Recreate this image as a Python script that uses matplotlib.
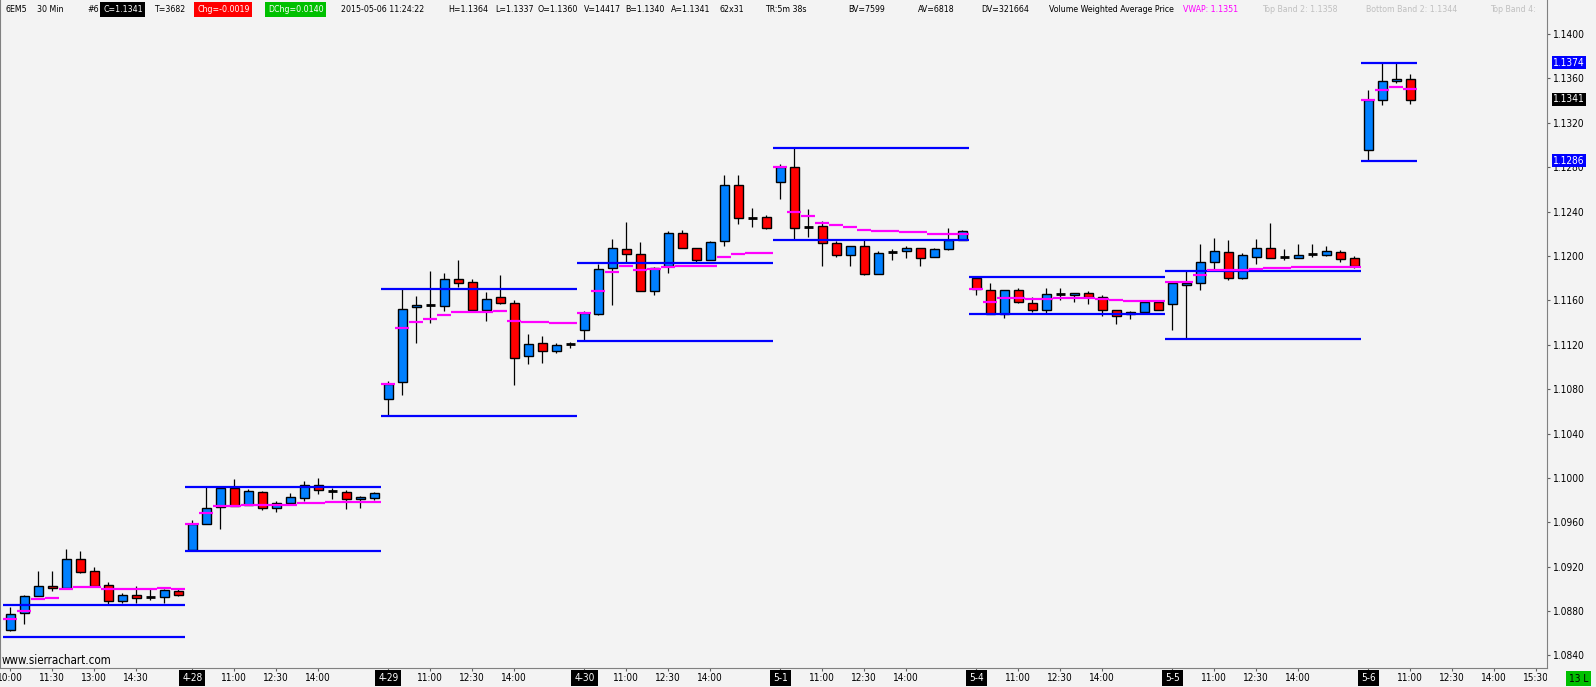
import numpy as np
import matplotlib
matplotlib.use("Agg")
import matplotlib.pyplot as plt
import matplotlib.transforms as mtransforms
from matplotlib import font_manager as fm

# fonts: prefer a narrow / condensed sans like the Sierra Chart UI
names = {f.name for f in fm.fontManager.ttflist}
condensed = [f for f in fm.fontManager.ttflist
             if f.stretch in ("condensed", "semi-condensed") and f.style == "normal"
             and f.weight in (400, "normal", "regular")]
if "Liberation Sans Narrow" in names:
    ui_font, ui_stretch = "Liberation Sans Narrow", "normal"
elif condensed:
    ui_font, ui_stretch = condensed[0].name, condensed[0].stretch
else:
    ui_font, ui_stretch = "Liberation Sans", "normal"
plt.rcParams["font.family"] = [ui_font, "DejaVu Sans"]
plt.rcParams["font.stretch"] = ui_stretch

# ---- data: 6EM5 30 min bars ----
days = ["4-27", "4-28", "4-29", "4-30", "5-1", "5-4", "5-5", "5-6"]
bars_in_day = [13, 14, 14, 14, 14, 14, 14, 4]

open_ = [
    1.08628, 1.08784, 1.08936, 1.09029, 1.09005, 1.09272, 1.09161, 1.09035, 1.08892, 1.08946, 1.08924, 1.08927, 1.08981,
    1.09347, 1.09581, 1.09736, 1.09910, 1.09760, 1.09871, 1.09727, 1.09778, 1.09823, 1.09934, 1.09883, 1.09871, 1.09808, 1.09817,
    1.10707, 1.10860, 1.11543, 1.11555, 1.11552, 1.11795, 1.11768, 1.11516, 1.11633, 1.11579, 1.11103, 1.11220, 1.11148, 1.11205,
    1.11337, 1.11477, 1.11894, 1.12064, 1.12020, 1.11687, 1.11909, 1.12208, 1.12073, 1.11966, 1.12136, 1.12640, 1.12346, 1.12352,
    1.12670, 1.12802, 1.12262, 1.12271, 1.12118, 1.12010, 1.12091, 1.11840, 1.12034, 1.12046, 1.12073, 1.11993, 1.12064, 1.12148,
    1.11798, 1.11696, 1.11480, 1.11696, 1.11579, 1.11516, 1.11654, 1.11651, 1.11669, 1.11633, 1.11516, 1.11480, 1.11498, 1.11588,
    1.11570, 1.11741, 1.11759, 1.11948, 1.12038, 1.11804, 1.11993, 1.12074, 1.11990, 1.11984, 1.12017, 1.12011, 1.12038, 1.11984,
    1.12957, 1.13404, 1.13575, 1.13593,
]
high = [
    1.08838, 1.08948, 1.09164, 1.09164, 1.09362, 1.09344, 1.09200, 1.09062, 1.08963, 1.09029, 1.08996, 1.09002, 1.09011,
    1.09622, 1.09916, 1.09916, 1.09991, 1.09901, 1.09883, 1.09790, 1.09865, 1.09970, 1.10000, 1.09913, 1.09889, 1.09835, 1.09871,
    1.10872, 1.11699, 1.11636, 1.11861, 1.11843, 1.11960, 1.11795, 1.11672, 1.11825, 1.11606, 1.11301, 1.11277, 1.11220, 1.11223,
    1.11504, 1.11930, 1.12157, 1.12310, 1.12130, 1.11900, 1.12229, 1.12235, 1.12073, 1.12139, 1.12733, 1.12733, 1.12436, 1.12370,
    1.12831, 1.12975, 1.12427, 1.12319, 1.12133, 1.12091, 1.12145, 1.12046, 1.12067, 1.12094, 1.12073, 1.12073, 1.12256, 1.12238,
    1.11810, 1.11753, 1.11696, 1.11714, 1.11633, 1.11714, 1.11714, 1.11669, 1.11687, 1.11651, 1.11516, 1.11504, 1.11606, 1.11588,
    1.11759, 1.11861, 1.12112, 1.12166, 1.12145, 1.12023, 1.12154, 1.12301, 1.12065, 1.12112, 1.12112, 1.12086, 1.12056, 1.11999,
    1.13497, 1.13737, 1.13737, 1.13640,
]
low = [
    1.08618, 1.08682, 1.08936, 1.08978, 1.09005, 1.09140, 1.09023, 1.08859, 1.08874, 1.08874, 1.08900, 1.08871, 1.08936,
    1.09338, 1.09581, 1.09542, 1.09751, 1.09760, 1.09715, 1.09697, 1.09766, 1.09790, 1.09859, 1.09814, 1.09724, 1.09733, 1.09799,
    1.10560, 1.10749, 1.11217, 1.11396, 1.11504, 1.11720, 1.11513, 1.11414, 1.11567, 1.10839, 1.11028, 1.11037, 1.11127, 1.11172,
    1.11235, 1.11468, 1.11558, 1.11939, 1.11687, 1.11648, 1.11846, 1.12073, 1.11945, 1.11966, 1.12088, 1.12286, 1.12259, 1.12241,
    1.12511, 1.12157, 1.12169, 1.11909, 1.11989, 1.11909, 1.11828, 1.11840, 1.11963, 1.11981, 1.11909, 1.11993, 1.12052, 1.12148,
    1.11645, 1.11480, 1.11441, 1.11576, 1.11492, 1.11483, 1.11606, 1.11588, 1.11567, 1.11459, 1.11387, 1.11432, 1.11498, 1.11516,
    1.11333, 1.11256, 1.11693, 1.11876, 1.11786, 1.11795, 1.11927, 1.11984, 1.11963, 1.11984, 1.11993, 1.11999, 1.11945, 1.11894,
    1.12868, 1.13356, 1.13557, 1.13370,
]
close = [
    1.08775, 1.08939, 1.09029, 1.09008, 1.09272, 1.09149, 1.09023, 1.08892, 1.08946, 1.08918, 1.08924, 1.08993, 1.08946,
    1.09581, 1.09727, 1.09910, 1.09751, 1.09880, 1.09727, 1.09772, 1.09826, 1.09934, 1.09889, 1.09883, 1.09808, 1.09826, 1.09862,
    1.10845, 1.11525, 1.11561, 1.11555, 1.11795, 1.11759, 1.11513, 1.11615, 1.11579, 1.11085, 1.11211, 1.11145, 1.11202, 1.11205,
    1.11483, 1.11885, 1.12073, 1.12020, 1.11687, 1.11894, 1.12208, 1.12073, 1.11966, 1.12127, 1.12640, 1.12343, 1.12346, 1.12253,
    1.12799, 1.12250, 1.12262, 1.12118, 1.12010, 1.12091, 1.11840, 1.12028, 1.12034, 1.12073, 1.11984, 1.12064, 1.12148, 1.12226,
    1.11705, 1.11480, 1.11696, 1.11588, 1.11516, 1.11660, 1.11654, 1.11669, 1.11630, 1.11516, 1.11462, 1.11495, 1.11588, 1.11516,
    1.11759, 1.11759, 1.11948, 1.12047, 1.11804, 1.12011, 1.12074, 1.11984, 1.11990, 1.12011, 1.12017, 1.12047, 1.11975, 1.11909,
    1.13407, 1.13575, 1.13593, 1.13404,
]
vwap = [
    1.08733, 1.08805, 1.08906, 1.08915, 1.08996, 1.09014, 1.09014, 1.09002, 1.09002, 1.09002, 1.09002, 1.09005, 1.08996,
    1.09581, 1.09688, 1.09748, 1.09751, 1.09760, 1.09760, 1.09760, 1.09760, 1.09778, 1.09778, 1.09784, 1.09787, 1.09787, 1.09787,
    1.10845, 1.11348, 1.11405, 1.11429, 1.11465, 1.11495, 1.11495, 1.11495, 1.11504, 1.11414, 1.11405, 1.11405, 1.11396, 1.11396,
    1.11483, 1.11681, 1.11852, 1.11906, 1.11870, 1.11882, 1.11897, 1.11906, 1.11906, 1.11906, 1.11987, 1.12014, 1.12023, 1.12023,
    1.12799, 1.12394, 1.12364, 1.12301, 1.12283, 1.12265, 1.12232, 1.12223, 1.12223, 1.12214, 1.12214, 1.12202, 1.12202, 1.12202,
    1.11699, 1.11582, 1.11618, 1.11618, 1.11609, 1.11609, 1.11618, 1.11618, 1.11618, 1.11612, 1.11600, 1.11591, 1.11591, 1.11591,
    1.11765, 1.11765, 1.11825, 1.11873, 1.11870, 1.11873, 1.11882, 1.11891, 1.11891, 1.11900, 1.11900, 1.11900, 1.11900, 1.11900,
    1.13407, 1.13497, 1.13518, 1.13506,
]
# first-hour (initial balance) high / low per day
ib_high = [1.08853, 1.09922, 1.11699, 1.11933, 1.12975, 1.11810, 1.11864, 1.13740]
ib_low = [1.08565, 1.09338, 1.10560, 1.11235, 1.12148, 1.11474, 1.11256, 1.12860]

first_day_times = ["10:00", "11:30", "13:00", "14:30"]
day_times = ["11:00", "12:30", "14:00"]
future_times = ["15:30"]
price_ticks = np.arange(1.0840, 1.14005, 0.004)
marked_prices = [(1.1374, "#0000ff"), (1.1341, "#000000"), (1.1286, "#0000ff")]

header_text = ["6EM5", "30 Min", "#6", "C=1.1341", "T=3682", "Chg=-0.0019", "DChg=0.0140",
               "2015-05-06 11:24:22", "H=1.1364", "L=1.1337", "O=1.1360", "V=14417", "B=1.1340",
               "A=1.1341", "62x31", "TR:5m 38s", "BV=7599", "AV=6818", "DV=321664",
               "Volume Weighted Average Price", "VWAP: 1.1351", "Top Band 2: 1.1358",
               "Bottom Band 2: 1.1344", "Top Band 4:"]

# ---- layout (pixels) ----
W, H = 1596, 687
PANE_R, PANE_B = 1547, 668
SLOTS = 14  # 30 min slots 9:30 .. 16:00


def slot_of(t):
    hh, mm = map(int, t.split(":"))
    return (hh * 60 + mm - 570) // 30


fig = plt.figure(figsize=(W / 100, H / 100), dpi=100, facecolor="#f3f3f3")
renderer = fig.canvas.get_renderer()


def fit_size(sample, width_px, ref=10.0):
    t = fig.text(0, 0, sample, fontsize=ref)
    w = t.get_window_extent(renderer=renderer).width
    t.remove()
    return ref * width_px / w


hdr_fs = min(9.5, fit_size("Volume Weighted Average Price", 127))
ax_fs = min(9.5, fit_size("1.0840", 32))
time_fs = min(9.5, fit_size("12:30", 26))

ax = fig.add_axes([0, 1 - PANE_B / H, PANE_R / W, PANE_B / H])
ax.set_facecolor("#f3f3f3")

# bar positions: one slot per 30 min, each session 14 slots
starts = [SLOTS * d + (SLOTS - n if d == 0 else 0) for d, n in enumerate(bars_in_day)]
x = np.concatenate([s + np.arange(n) for s, n in zip(starts, bars_in_day)])
o, h, l, c, vw = map(np.array, (open_, high, low, close, vwap))

up = c > o + 1e-6
dn = c < o - 1e-6
dj = ~(up | dn)

ax.vlines(x, l, h, color="black", lw=0.9, zorder=2)
ax.bar(x[up], (c - o)[up], bottom=o[up], width=0.6, color="#0080ff",
       edgecolor="black", linewidth=1.0, zorder=3)
ax.bar(x[dn], (o - c)[dn], bottom=c[dn], width=0.6, color="#ff0000",
       edgecolor="black", linewidth=1.0, zorder=3)
ax.hlines(o[dj], x[dj] - 0.32, x[dj] + 0.32, color="black", lw=2.0, zorder=3)

for s, n, hi, lo in zip(starts, bars_in_day, ib_high, ib_low):
    ax.hlines([hi, lo], s - 0.5, s + n - 0.5, color="#0000ff", lw=1.6, zorder=4)

ax.hlines(vw, x - 0.5, x + 0.5, color="#ff00ff", lw=1.6, zorder=5)

# scales: 1.1400 sits 34 px below the top, 11098 px per price unit
ppu = 11098.0
ax.set_ylim(1.14 - (PANE_B - 34) / ppu, 1.14 + 34 / ppu)
ax.set_xlim(3.7 / 14, (PANE_R + 3.7) / 14)

for side in ("left", "right", "bottom"):
    ax.spines[side].set_color("#808080")
    ax.spines[side].set_linewidth(0.8)
ax.spines["top"].set_visible(False)

ax.yaxis.tick_right()
ax.set_yticks(price_ticks)
ax.set_yticklabels([f"{v:.4f}" for v in price_ticks])
ax.tick_params(axis="y", direction="out", length=2.5, width=0.8, color="#606060",
               pad=2, labelsize=ax_fs, labelcolor="black")

# time axis labels
tick_pos, tick_lab = [], []
for t in first_day_times:
    tick_pos.append(slot_of(t))
    tick_lab.append(t)
for d in range(1, len(days)):
    tick_pos.append(SLOTS * d)
    tick_lab.append(days[d])
    for t in day_times:
        tick_pos.append(SLOTS * d + slot_of(t))
        tick_lab.append(t)
for t in future_times:
    tick_pos.append(SLOTS * (len(days) - 1) + slot_of(t))
    tick_lab.append(t)

ax.set_xticks(tick_pos)
ax.set_xticklabels([])
ax.tick_params(axis="x", direction="out", length=2.5, width=0.8, color="#606060")

ax_x = fig.add_axes([0, 0, PANE_R / W, (H - PANE_B) / H])
ax_x.set_xlim(ax.get_xlim())
ax_x.set_ylim(0, 1)
ax_x.axis("off")
for p, lab in zip(tick_pos, tick_lab):
    if lab in days:
        ax_x.text(p, 0.47, lab, ha="center", va="center", color="white",
                  fontsize=time_fs, clip_on=True,
                  bbox=dict(boxstyle="square,pad=0.3", fc="black", ec="none"))
    else:
        ax_x.text(p, 0.47, lab, ha="center", va="center", color="black",
                  fontsize=time_fs, clip_on=True)

# highlighted prices on the right scale
yblend = mtransforms.blended_transform_factory(ax.transAxes, ax.transData)
for val, col in marked_prices:
    ax.text(1 + 6 / PANE_R, val, f"{val:.4f}", transform=yblend, ha="left", va="center",
            color="white", fontsize=ax_fs, clip_on=False, zorder=10,
            bbox=dict(boxstyle="square,pad=0.14", fc=col, ec="none"))

# header line
header_x = [6, 37, 87, 103, 154, 197, 268, 341, 448, 495, 538, 584, 625, 671, 719, 765,
            848, 918, 981, 1049, 1183, 1262, 1366, 1490]
boxed = {"C=1.1341": "#000000", "Chg=-0.0019": "#ff0000", "DChg=0.0140": "#00c000"}
for txt, px in zip(header_text, header_x):
    col = "black"
    if txt.startswith("VWAP"):
        col = "#ff00ff"
    elif "Band" in txt:
        col = "#c0c0c0"
    kw = {}
    if txt in boxed:
        col = "white"
        kw["bbox"] = dict(boxstyle="square,pad=0.3", fc=boxed[txt], ec="none")
    ax.text(px / PANE_R, 1 - 9.5 / PANE_B, txt, transform=ax.transAxes, ha="left",
            va="center", color=col, fontsize=hdr_fs, clip_on=True, zorder=10, **kw)

ax.text(2 / PANE_R, 1 - 661 / PANE_B, "www.sierrachart.com", transform=ax.transAxes,
        ha="left", va="center", color="black", fontsize=min(10.5, fit_size("www.sierrachart.com", 110)),
        zorder=10)

fig.text(1569 / W, 1 - 678.5 / H, "13 L", ha="left", va="center", color="black",
         fontsize=ax_fs,
         bbox=dict(boxstyle="square,pad=0.28", fc="#00c000", ec="none"))

fig.savefig("out.png", dpi=100, facecolor=fig.get_facecolor())
plt.close(fig)
